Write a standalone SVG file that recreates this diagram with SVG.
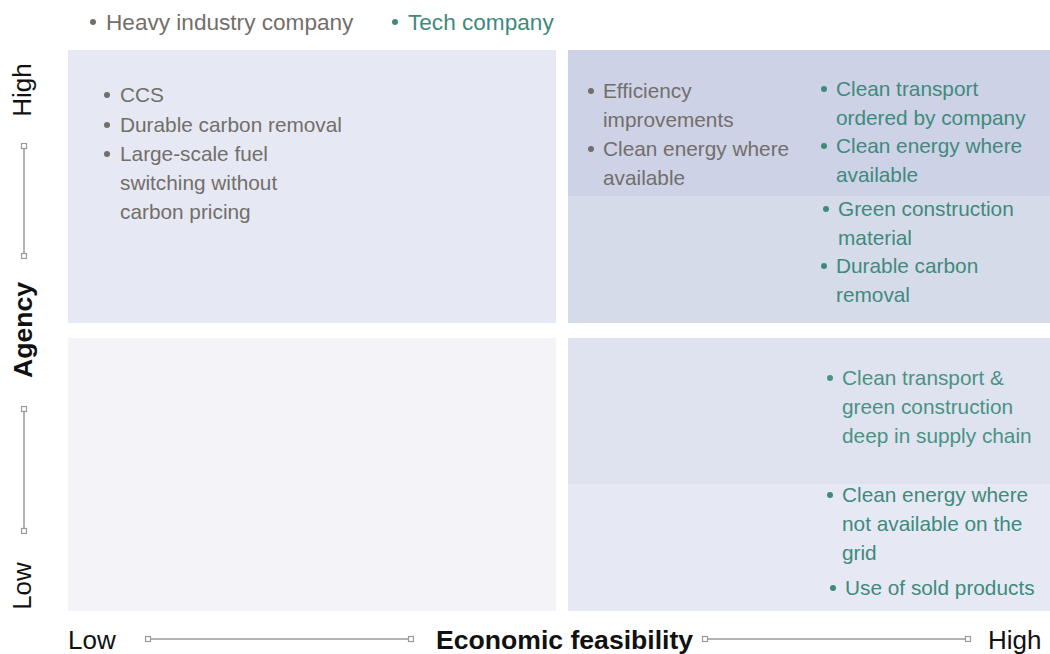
<svg xmlns="http://www.w3.org/2000/svg" width="1050" height="654" viewBox="0 0 1050 654">
  <style>
    text { font-family: "Liberation Sans", Arial, sans-serif; }
    .item { font-size: 20.8px; }
    .grey { fill: #736e6a; }
    .teal { fill: #3f8a7c; }
    .teal-soft { fill: #4b9284; }
    .legend { font-size: 22.6px; }
    .axis { font-size: 26px; fill: #111; }
    .axis-title { font-size: 26.6px; font-weight: bold; fill: #111; }
    .rule { stroke: #9a9a9a; stroke-width: 1.5; fill: none; }
    .tick { stroke: #9a9a9a; stroke-width: 1.2; fill: #fff; }
  </style>
  <defs>
    <circle id="dot" r="3"/>
  </defs>
  <rect width="1050" height="654" fill="#fff"/>

  <!-- legend -->
  <g id="legend">
    <use href="#dot" x="93" y="22" class="grey"/>
    <text x="106" y="30" class="legend grey">Heavy industry company</text>
    <use href="#dot" x="395" y="22" class="teal"/>
    <text x="408" y="30" class="legend teal">Tech company</text>
  </g>

  <!-- quadrant: high agency, low feasibility -->
  <g id="q-high-low">
    <rect x="68" y="50" width="488" height="273" fill="#e6e9f4"/>
    <use href="#dot" x="107" y="95" class="grey"/>
    <text x="120" y="102" class="item grey">CCS</text>
    <use href="#dot" x="107" y="125" class="grey"/>
    <text x="120" y="132" class="item grey">Durable carbon removal</text>
    <use href="#dot" x="107" y="154" class="grey"/>
    <text x="120" y="161" class="item grey">Large-scale fuel</text>
    <text x="120" y="190" class="item grey">switching without</text>
    <text x="120" y="219" class="item grey">carbon pricing</text>
  </g>

  <!-- quadrant: high agency, high feasibility -->
  <g id="q-high-high">
    <rect x="568" y="50" width="482" height="146" fill="#cdd2e6"/>
    <rect x="568" y="196" width="482" height="127" fill="#d6dbea"/>
    <use href="#dot" x="591" y="91" class="grey"/>
    <text x="603" y="98" class="item grey">Efficiency</text>
    <text x="603" y="127" class="item grey">improvements</text>
    <use href="#dot" x="591" y="149" class="grey"/>
    <text x="603" y="156" class="item grey">Clean energy where</text>
    <text x="603" y="185" class="item grey">available</text>

    <use href="#dot" x="824" y="89" class="teal"/>
    <text x="836" y="96" class="item teal">Clean transport</text>
    <text x="836" y="125" class="item teal">ordered by company</text>
    <use href="#dot" x="824" y="146" class="teal"/>
    <text x="836" y="153" class="item teal">Clean energy where</text>
    <text x="836" y="182" class="item teal">available</text>
    <use href="#dot" x="826" y="209" class="teal"/>
    <text x="838" y="216" class="item teal">Green construction</text>
    <text x="838" y="245" class="item teal">material</text>
    <use href="#dot" x="824" y="266" class="teal"/>
    <text x="836" y="273" class="item teal">Durable carbon</text>
    <text x="836" y="302" class="item teal">removal</text>
  </g>

  <!-- quadrant: low agency, low feasibility -->
  <g id="q-low-low">
    <rect x="68" y="338" width="488" height="273" fill="#f3f3f8"/>
  </g>

  <!-- quadrant: low agency, high feasibility -->
  <g id="q-low-high">
    <rect x="568" y="338" width="482" height="146" fill="#dfe3ef"/>
    <rect x="568" y="484" width="482" height="127" fill="#e6e9f4"/>
    <use href="#dot" x="830" y="378" class="teal-soft"/>
    <text x="842" y="385" class="item teal-soft">Clean transport &amp;</text>
    <text x="842" y="414" class="item teal-soft">green construction</text>
    <text x="842" y="443" class="item teal-soft">deep in supply chain</text>
    <use href="#dot" x="830" y="495" class="teal"/>
    <text x="842" y="502" class="item teal">Clean energy where</text>
    <text x="842" y="531" class="item teal">not available on the</text>
    <text x="842" y="560" class="item teal">grid</text>
    <use href="#dot" x="833" y="588" class="teal"/>
    <text x="845" y="595" class="item teal">Use of sold products</text>
  </g>

  <!-- vertical axis: agency -->
  <g id="axis-agency">
    <text class="axis" transform="translate(31 90) rotate(-90)" text-anchor="middle">High</text>
    <line class="rule" x1="24" y1="146" x2="24" y2="256"/>
    <rect class="tick" x="21.5" y="143.5" width="5" height="5"/>
    <rect class="tick" x="21.5" y="253.5" width="5" height="5"/>
    <text class="axis-title" transform="translate(32 330) rotate(-90)" text-anchor="middle">Agency</text>
    <line class="rule" x1="24" y1="410" x2="24" y2="531"/>
    <rect class="tick" x="21.5" y="406.5" width="5" height="5"/>
    <rect class="tick" x="21.5" y="528.5" width="5" height="5"/>
    <text class="axis" transform="translate(31 586) rotate(-90)" text-anchor="middle">Low</text>
  </g>

  <!-- horizontal axis: economic feasibility -->
  <g id="axis-feasibility">
    <text class="axis" x="68" y="649">Low</text>
    <line class="rule" x1="148" y1="639" x2="411" y2="639"/>
    <rect class="tick" x="145.5" y="636.5" width="5" height="5"/>
    <rect class="tick" x="408.5" y="636.5" width="5" height="5"/>
    <text class="axis-title" x="436" y="649">Economic feasibility</text>
    <line class="rule" x1="705" y1="639" x2="968" y2="639"/>
    <rect class="tick" x="702.5" y="636.5" width="5" height="5"/>
    <rect class="tick" x="965.5" y="636.5" width="5" height="5"/>
    <text class="axis" x="988" y="649">High</text>
  </g>
</svg>
